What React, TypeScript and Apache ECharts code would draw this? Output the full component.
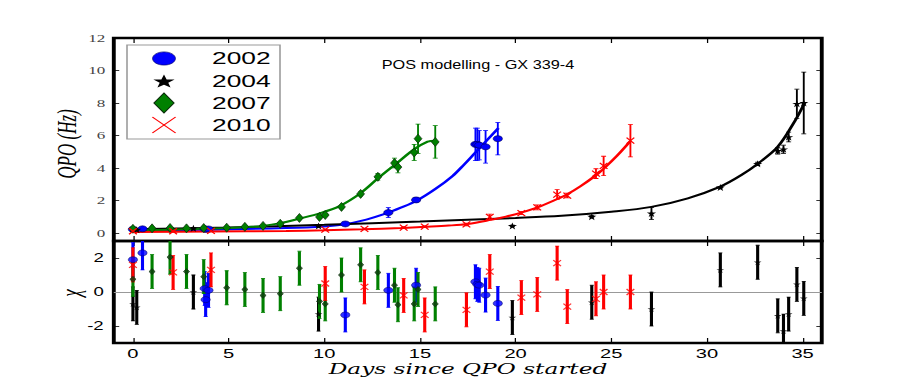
import React, { useEffect, useRef } from 'react';
import * as echarts from 'echarts';

// The reference figure is horizontally stretched; we draw in a narrower frame and stretch it.
const STRETCH = 1.55;
const PAGE_W = 913;
const PAGE_H = 382;
const W = PAGE_W / STRETCH;

// ---------- data (days since QPO started, QPO frequency in Hz, 1-sigma error, residual chi) ----------
const x2002 = [0, 0.5, 3.75, 3.8, 3.95, 11.1, 13.35, 14.8, 17.9, 18.0, 18.1, 18.43, 19.07];
const y2002 = [0.22, 0.25, 0.25, 0.22, 0.24, 0.55, 1.25, 2.03, 5.45, 5.45, 5.4, 5.3, 5.8];
const e2002 = [0.03, 0.03, 0.03, 0.03, 0.03, 0.05, 0.3, 0.15, 1.0, 1.0, 0.9, 1.0, 1.0];
const chi2002 = [1.9, 2.3, 0.2, -0.45, 0.1, -1.35, 0.1, 0.4, 0.6, 0.45, 0.4, -0.18, -0.67];

const x2004 = [0, 0.2, 3.16, 9.7, 19.83, 23.98, 27.1, 30.7, 32.65, 33.7, 34.0, 34.27, 34.7, 35.06];
const y2004 = [0.25, 0.2, 0.28, 0.43, 0.43, 1.0, 1.2, 2.8, 4.25, 5.05, 5.15, 5.9, 7.95, 8.0];
const e2004 = [0.05, 0.05, 0.05, 0.05, 0.05, 0.08, 0.37, 0.05, 0.1, 0.2, 0.25, 0.3, 0.9, 1.9];
const chi2004 = [-0.7, -0.9, 0.0, -1.3, -1.5, -0.6, -1.0, 1.3, 1.75, -1.4, -2.3, -1.3, 0.45, -0.37];

const x2007 = [0, 1.0, 1.94, 2.8, 3.7, 4.9, 5.85, 6.8, 7.7, 8.7, 9.75, 10.05, 10.9, 11.9, 12.8, 13.67, 13.85, 14.7, 14.9, 15.8];
const y2007 = [0.25, 0.28, 0.3, 0.28, 0.3, 0.32, 0.37, 0.43, 0.56, 0.92, 0.98, 1.1, 1.6, 2.4, 3.45, 4.3, 4.05, 4.95, 5.8, 5.6];
const e2007 = [0.03, 0.03, 0.03, 0.03, 0.03, 0.04, 0.05, 0.05, 0.06, 0.08, 0.1, 0.1, 0.1, 0.12, 0.2, 0.3, 0.35, 0.5, 0.9, 1.0];
const chi2007 = [0.75, 1.2, 2.05, 1.2, 0.9, 0.25, 0.15, -0.2, -0.1, 1.4, -0.55, -0.7, 1.0, 1.6, 1.15, 0.4, -0.75, -0.7, 0.15, -0.7];

const x2010 = [0, 2.1, 4.08, 10.05, 12.1, 14.15, 15.25, 17.43, 18.65, 20.3, 21.13, 22.17, 22.7, 24.2, 24.6, 26.0];
const y2010 = [0.1, 0.1, 0.12, 0.2, 0.25, 0.33, 0.38, 0.52, 0.98, 1.22, 1.57, 2.36, 2.3, 3.65, 4.12, 5.68];
const e2010 = [0.03, 0.03, 0.03, 0.03, 0.04, 0.05, 0.05, 0.08, 0.17, 0.1, 0.15, 0.3, 0.15, 0.3, 0.6, 1.0];
const chi2010 = [1.6, 1.15, 1.3, 0.5, 0.3, -0.2, -1.35, -1.05, 1.2, -0.33, -0.14, 1.7, -0.86, -0.4, 0.0, 0.0];

// POS model curves
const curve2002X = [0, 4, 8, 10, 11, 12.2, 13.2, 14, 14.85, 15.8, 16.7, 17.3, 17.9, 18.5, 19.1];
const curve2002Y = [0.15, 0.2, 0.3, 0.4, 0.52, 0.82, 1.18, 1.55, 2.0, 2.7, 3.5, 4.2, 4.95, 5.7, 6.45];
const curve2004X = [0, 5, 10, 15, 20, 22.4, 25, 27.1, 29, 30.7, 31.8, 32.7, 33.7, 34.6, 35.1];
const curve2004Y = [0.22, 0.33, 0.5, 0.7, 0.92, 1.05, 1.3, 1.6, 2.13, 2.85, 3.56, 4.3, 5.3, 6.9, 8.0];
const curve2007X = [0, 2, 4, 5, 6, 6.8, 7.7, 8.7, 9.8, 10.8, 11.9, 12.8, 13.8, 14.7, 15.4, 15.8];
const curve2007Y = [0.18, 0.2, 0.26, 0.3, 0.36, 0.43, 0.6, 0.88, 1.22, 1.65, 2.45, 3.35, 4.3, 5.15, 5.62, 5.68];
const curve2010X = [0, 4, 8, 10, 12, 14, 15.2, 16.5, 17.5, 18.7, 19.5, 20.3, 21.1, 22.2, 22.7, 23.4, 24.2, 24.6, 25.3, 26.0];
const curve2010Y = [0.05, 0.08, 0.12, 0.16, 0.22, 0.3, 0.37, 0.45, 0.55, 0.8, 1.0, 1.25, 1.55, 2.1, 2.38, 2.88, 3.55, 3.95, 4.75, 5.66];

const years = ['2002', '2004', '2007', '2010'];
const colors = ['#0000ff', '#000000', '#008000', '#ff0000'];
const xTickLabels = ['0', '5', '10', '15', '20', '25', '30', '35'];
const yTopTickLabels = ['0', '2', '4', '6', '8', '10', '12'];
const yResTickLabels = ['-2', '0', '2'];

const titleText = 'POS modelling - GX 339-4';
const xTitle = 'Days since QPO started';
const yTitle = 'QPO (Hz)';
const yResTitle = '\u03c7';

// ---------- helpers ----------
const pairs = (xs: number[], ys: number[]) => xs.map((x, i) => [x, ys[i]]);
const bars = (xs: number[], ys: number[], es: number[]) => xs.map((x, i) => [x, ys[i] - es[i], ys[i] + es[i]]);

const STAR = 'path://M50,2 L61,37 L98,37 L68,59 L79,95 L50,73 L21,95 L32,59 L2,37 L39,37 Z';
const CROSS = 'path://M0,0 L10,10 M10,0 L0,10';

const errRender = (color: string, lw: number, cap: number) => (params: any, api: any) => {
  const x = api.value(0);
  const p1 = api.coord([x, api.value(1)]);
  const p2 = api.coord([x, api.value(2)]);
  return {
    type: 'group',
    children: [
      { type: 'line', shape: { x1: p1[0], y1: p1[1], x2: p2[0], y2: p2[1] }, style: { stroke: color, lineWidth: lw } },
      { type: 'line', shape: { x1: p1[0] - cap, y1: p1[1], x2: p1[0] + cap, y2: p1[1] }, style: { stroke: color, lineWidth: 0.8 } },
      { type: 'line', shape: { x1: p2[0] - cap, y1: p2[1], x2: p2[0] + cap, y2: p2[1] }, style: { stroke: color, lineWidth: 0.8 } },
    ],
  };
};

function starPoints(cx: number, cy: number, R: number, r: number) {
  const pts: number[][] = [];
  for (let i = 0; i < 10; i++) {
    const rad = i % 2 === 0 ? R : r;
    const a = -Math.PI / 2 + (i * Math.PI) / 5;
    pts.push([cx + rad * Math.cos(a), cy + rad * Math.sin(a) + 0.8]);
  }
  return pts;
}

function buildOption() {
  const left = 113.8 / STRETCH;
  const right = W - 821.8 / STRETCH;
  const xLabelFmt = (v: number) => (xTickLabels.indexOf(String(v)) >= 0 ? String(v) : '');
  const yTopFmt = (v: number) => (yTopTickLabels.indexOf(String(v)) >= 0 ? String(v) : '');
  const yResFmt = (v: number) => (yResTickLabels.indexOf(String(v)) >= 0 ? String(v) : '');

  const baseX = (gridIndex: number, position: string, showLabel: boolean) => ({
    type: 'value', gridIndex, position, min: -1, max: 36, splitNumber: 7,
    axisLine: { show: false, onZero: false },
    axisTick: { show: true, inside: true, length: 5, lineStyle: { color: '#000', width: 0.8 } },
    splitLine: { show: false },
    axisLabel: showLabel
      ? { show: true, formatter: xLabelFmt, fontFamily: 'Liberation Sans, Arial, sans-serif', fontSize: 13, color: '#000', margin: 4 }
      : { show: false },
  });
  const baseY = (gridIndex: number, position: string, min: number, max: number, split: number, label: any) => ({
    type: 'value', gridIndex, position, min, max, splitNumber: split,
    axisLine: { show: false, onZero: false },
    axisTick: { show: true, inside: true, length: 3.5, lineStyle: { color: '#000', width: 0.8 } },
    splitLine: { show: false },
    axisLabel: label,
  });

  const markers = [
    { symbol: 'circle', size: [6, 6], res: [6, 6], color: colors[0], border: '#000060', bw: 0.5 },
    { symbol: STAR, size: [6, 7], res: [5, 6], color: colors[1], border: '#000', bw: 0 },
    { symbol: 'diamond', size: [5, 9], res: [4, 6], color: colors[2], border: '#0a2a0a', bw: 0.6 },
    { symbol: CROSS, size: [5, 6], res: [5, 6], color: 'rgba(0,0,0,0)', border: colors[3], bw: 1 },
  ];
  const tops = [
    { x: x2002, y: y2002, e: e2002, chi: chi2002, cx: curve2002X, cy: curve2002Y },
    { x: x2004, y: y2004, e: e2004, chi: chi2004, cx: curve2004X, cy: curve2004Y },
    { x: x2007, y: y2007, e: e2007, chi: chi2007, cx: curve2007X, cy: curve2007Y },
    { x: x2010, y: y2010, e: e2010, chi: chi2010, cx: curve2010X, cy: curve2010Y },
  ];

  const series: any[] = [];
  // model curves
  tops.forEach((d, i) => {
    series.push({
      type: 'line', name: years[i] + ' model', xAxisIndex: 0, yAxisIndex: 0,
      data: pairs(d.cx, d.cy), showSymbol: false, smooth: 0.35,
      lineStyle: { color: colors[i], width: 2 }, z: 2, silent: true,
    });
  });
  // error bars top
  tops.forEach((d, i) => {
    series.push({
      type: 'custom', name: years[i] + ' err', xAxisIndex: 0, yAxisIndex: 0,
      data: bars(d.x, d.y, d.e), renderItem: errRender(colors[i], 1.2, 1.6), z: 3, clip: true, silent: true,
    });
  });
  // markers top
  tops.forEach((d, i) => {
    const m = markers[i];
    series.push({
      type: 'scatter', name: years[i], xAxisIndex: 0, yAxisIndex: 0,
      data: pairs(d.x, d.y), symbol: m.symbol, symbolSize: m.size,
      itemStyle: { color: m.color, borderColor: m.border, borderWidth: m.bw, opacity: 1 }, z: 4,
    });
  });
  // residual error bars
  tops.forEach((d, i) => {
    series.push({
      type: 'custom', name: years[i] + ' res err', xAxisIndex: 2, yAxisIndex: 2,
      data: d.x.map((x, k) => [x, d.chi[k] - 1, d.chi[k] + 1]),
      renderItem: errRender(colors[i], 2, 1.3), z: 3, clip: true, silent: true,
    });
  });
  // residual markers
  tops.forEach((d, i) => {
    const m = markers[i];
    const s: any = {
      type: 'scatter', name: years[i] + ' residual', xAxisIndex: 2, yAxisIndex: 2,
      data: pairs(d.x, d.chi), symbol: m.symbol, symbolSize: m.res,
      itemStyle: { color: i === 2 ? '#0d3d0d' : m.color, borderColor: m.border, borderWidth: m.bw }, z: 4,
    };
    if (i === 0) {
      s.markLine = {
        silent: true, symbol: ['none', 'none'], label: { show: false },
        lineStyle: { color: '#999', width: 1, type: 'solid' }, data: [{ yAxis: 0 }], z: 1,
      };
    }
    series.push(s);
  });

  const lgX = 105.8;
  const lgY = [58.5, 81, 103, 125];
  const graphic: any[] = [
    { type: 'rect', shape: { x: 127 / STRETCH, y: 45, width: (280 - 127) / STRETCH, height: 94 }, style: { fill: '#fff', stroke: '#999', lineWidth: 1 }, z: 10 },
    { type: 'ellipse', shape: { cx: lgX, cy: lgY[0], rx: 7.4, ry: 6.6 }, style: { fill: colors[0], stroke: '#000060', lineWidth: 0.5 }, z: 11 },
    { type: 'polygon', shape: { points: starPoints(lgX, lgY[1], 7.2, 2.9) }, style: { fill: colors[1] }, z: 11 },
    { type: 'polygon', shape: { points: [[lgX, lgY[2] - 10], [lgX + 6.5, lgY[2]], [lgX, lgY[2] + 10], [lgX - 6.5, lgY[2]]] }, style: { fill: colors[2], stroke: '#0a2a0a', lineWidth: 0.8 }, z: 11 },
    { type: 'line', shape: { x1: lgX - 7.5, y1: lgY[3] - 8, x2: lgX + 7.5, y2: lgY[3] + 8 }, style: { stroke: colors[3], lineWidth: 1 }, z: 11 },
    { type: 'line', shape: { x1: lgX - 7.5, y1: lgY[3] + 8, x2: lgX + 7.5, y2: lgY[3] - 8 }, style: { stroke: colors[3], lineWidth: 1 }, z: 11 },
    ...years.map((yr, i) => ({
      type: 'text', x: 212 / STRETCH, y: lgY[i], z: 11,
      style: { text: yr, fill: '#000', font: '17px "Liberation Sans", Arial, sans-serif', textAlign: 'left', textVerticalAlign: 'middle' },
    })),
    {
      type: 'text', x: 478 / STRETCH, y: 65, scaleX: 0.84, z: 11,
      style: { text: titleText, fill: '#000', font: '12.5px "Liberation Sans", Arial, sans-serif', textAlign: 'center', textVerticalAlign: 'middle' },
    },
    {
      type: 'text', x: 468 / STRETCH, y: 369, z: 11,
      style: { text: xTitle, fill: '#000', font: 'italic 15px "DejaVu Serif", serif', textAlign: 'center', textVerticalAlign: 'middle' },
    },
    {
      type: 'text', x: 67.5 / STRETCH, y: 144, rotation: Math.PI / 2, z: 11,
      style: { text: yTitle, fill: '#000', font: 'italic 17px "Liberation Serif", serif', textAlign: 'center', textVerticalAlign: 'middle' },
    },
    {
      type: 'text', x: 71 / STRETCH, y: 293, rotation: Math.PI / 2, z: 11,
      style: { text: yResTitle, fill: '#000', font: 'italic 17px "Liberation Serif", serif', textAlign: 'center', textVerticalAlign: 'middle' },
    },
  ];

  return {
    animation: false,
    backgroundColor: '#fff',
    grid: [
      { left, right, top: 38, height: 203, show: true, borderColor: '#000', borderWidth: 2.5, backgroundColor: 'transparent' },
      { left, right, top: 241, height: 102, show: true, borderColor: '#000', borderWidth: 2.5, backgroundColor: 'transparent' },
    ],
    xAxis: [baseX(0, 'bottom', false), baseX(0, 'top', false), baseX(1, 'bottom', true), baseX(1, 'top', false)],
    yAxis: [
      baseY(0, 'left', -0.5, 12, 6, { show: true, formatter: yTopFmt, fontFamily: '"Liberation Serif", serif', fontSize: 11, color: '#444', margin: 5.5 }),
      baseY(0, 'right', -0.5, 12, 6, { show: false }),
      baseY(1, 'left', -3, 3, 3, { show: true, formatter: yResFmt, fontFamily: '"Liberation Sans", Arial, sans-serif', fontSize: 12, color: '#000', margin: 6.5 }),
      baseY(1, 'right', -3, 3, 3, { show: false }),
    ],
    series,
    graphic,
  };
}

export default function App() {
  const ref = useRef<HTMLDivElement>(null);
  useEffect(() => {
    const el = ref.current;
    if (!el) return;
    const chart = echarts.init(el, null, { renderer: 'svg' });
    chart.setOption(buildOption() as any);
    return () => chart.dispose();
  }, []);
  return (
    <div
      ref={ref}
      style={{
        position: 'absolute', left: 0, top: 0, width: W, height: PAGE_H,
        transform: `scaleX(${STRETCH})`, transformOrigin: '0 0', background: '#fff',
      }}
    />
  );
}
